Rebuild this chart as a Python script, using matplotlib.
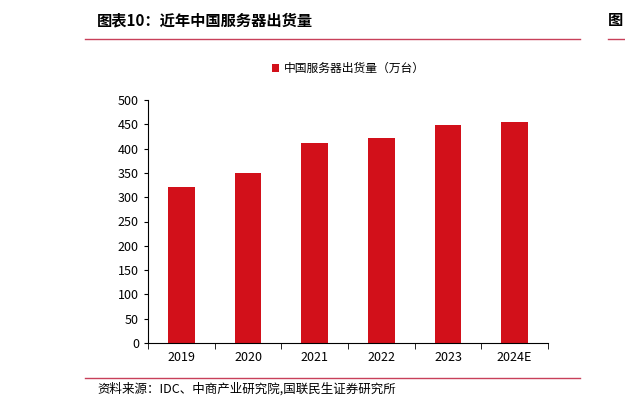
import matplotlib
matplotlib.use("Agg")
import matplotlib.pyplot as plt
from matplotlib.lines import Line2D
import numpy as np

plt.rcParams["font.family"] = ["Noto Sans CJK SC", "DejaVu Sans"]

years = ["2019", "2020", "2021", "2022", "2023", "2024E"]
values = [320, 350, 412, 422, 449, 455]
yticks = [0, 50, 100, 150, 200, 250, 300, 350, 400, 450, 500]

W, H = 625, 408
fig = plt.figure(figsize=(W/100, H/100), dpi=100)
ax = fig.add_axes([148/W, 1-343/H, (548-148)/W, (343-100)/H])
red = "#d2101a"
ax.bar(range(len(years)), values, width=0.4, color=red, label="中国服务器出货量（万台）")
ax.set_xlim(-0.5, len(years)-0.5)
ax.set_ylim(0, 500)
ax.set_yticks(yticks)
ax.set_xticks(range(len(years)))
ax.set_xticklabels(years)
ax.set_xticks(np.arange(-0.5, len(years)), minor=True)
for s in ["top", "right"]:
    ax.spines[s].set_visible(False)
for s in ["left", "bottom"]:
    ax.spines[s].set_color("#000000")
    ax.spines[s].set_linewidth(0.8)
ax.tick_params(axis="both", labelsize=9, length=3, direction="out")
ax.tick_params(axis="x", which="major", length=0, pad=6)
ax.tick_params(axis="x", which="minor", length=4)
ax.legend(loc="upper center", bbox_to_anchor=(0.5, 1.2), frameon=False, fontsize=8.5,
          handlelength=0.6, handleheight=0.6, handletextpad=0.4)

fig.text(97/W, 1-20/H, "图表10：近年中国服务器出货量", fontsize=11, fontweight="bold", va="center")
fig.add_artist(Line2D([85/W, 580/W], [1-39/H, 1-39/H], color="#c8405a", lw=1))
fig.add_artist(Line2D([608/W, 625/W], [1-39/H, 1-39/H], color="#c8405a", lw=1))
fig.text(608/W, 1-20/H, "图", fontsize=11, fontweight="bold", va="center")
fig.add_artist(Line2D([85/W, 580/W], [1-378/H, 1-378/H], color="#c8405a", lw=1))
fig.text(97/W, 1-389/H, "资料来源：IDC、中商产业研究院,国联民生证券研究所", fontsize=9, va="center")
fig.savefig("out.png", dpi=100)
